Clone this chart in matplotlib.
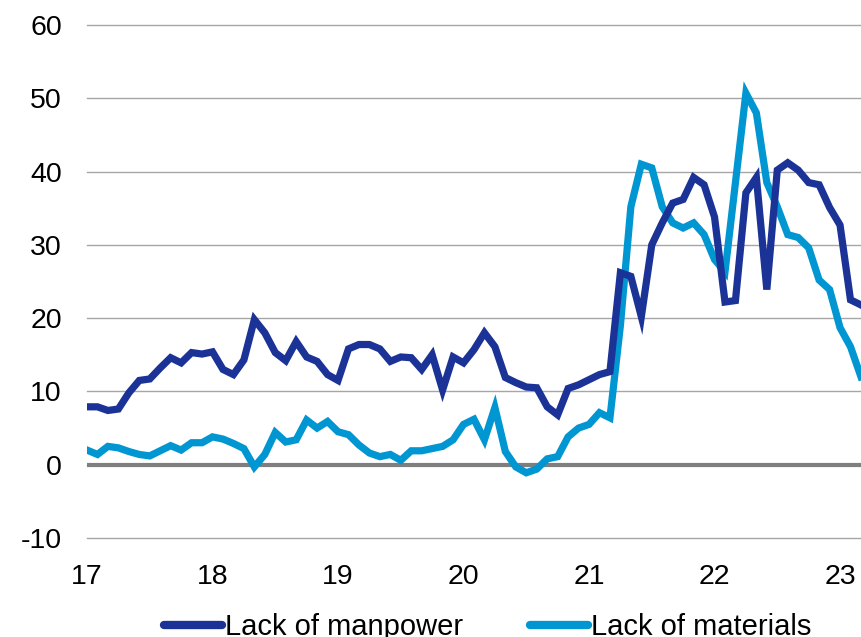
import numpy as np
import matplotlib
matplotlib.use("Agg")
import matplotlib.pyplot as plt

# Monthly survey balances, Jan 2017 onwards (share of firms citing each constraint)
START_YEAR = 17
manpower = [
    7.9, 7.9, 7.4, 7.6, 9.8, 11.5, 11.7, 13.2, 14.6, 13.9, 15.3, 15.1,
    15.4, 13.0, 12.3, 14.3, 19.8, 18.0, 15.3, 14.2, 16.8, 14.7, 14.1, 12.3,
    11.5, 15.8, 16.4, 16.4, 15.8, 14.1, 14.7, 14.6, 13.0, 15.0, 10.2, 14.7,
    13.9, 15.7, 18.0, 16.1, 11.9, 11.2, 10.6, 10.5, 7.9, 6.8, 10.4, 10.9,
    11.6, 12.3, 12.7, 26.2, 25.7, 20.2, 30.0, 33.0, 35.7, 36.2, 39.2, 38.2,
    33.8, 22.2, 22.4, 37.1, 39.2, 23.9, 40.2, 41.2, 40.2, 38.5, 38.2, 35.1,
    32.7, 22.5, 21.8,
]
materials = [
    2.0, 1.4, 2.5, 2.3, 1.8, 1.4, 1.2, 1.9, 2.6, 2.0, 3.0, 3.0,
    3.8, 3.5, 2.9, 2.2, -0.3, 1.4, 4.4, 3.1, 3.4, 6.1, 5.0, 5.9,
    4.5, 4.1, 2.7, 1.6, 1.1, 1.4, 0.6, 1.9, 1.9, 2.2, 2.5, 3.4,
    5.5, 6.2, 3.4, 7.8, 1.8, -0.3, -1.1, -0.6, 0.8, 1.1, 3.8, 5.0,
    5.5, 7.1, 6.4, 19.0, 35.2, 41.0, 40.5, 35.2, 33.0, 32.3, 33.0, 31.4,
    28.0, 26.3, 38.5, 50.7, 48.0, 38.5, 35.2, 31.4, 31.0, 29.6, 25.2, 23.9,
    18.7, 16.1, 12.0,
]
year_ticks = [17, 18, 19, 20, 21, 22, 23]
y_ticks = [-10, 0, 10, 20, 30, 40, 50, 60]

DARK = "#1b3296"
LIGHT = "#0096d2"

plt.rcParams["font.family"] = ["Liberation Sans", "DejaVu Sans"]
plt.rcParams["axes.unicode_minus"] = False

t = START_YEAR + np.arange(len(manpower)) / 12.0

fig = plt.figure(figsize=(8.62, 6.37), dpi=100)
ax = fig.add_axes([87 / 862, 1 - 538 / 637, 1 - 87 / 862, (538 - 25) / 637])

ax.set_ylim(-10, 60)
ax.set_xlim(17, 23.175)
ax.set_yticks(y_ticks)
ax.set_xticks(year_ticks)
ax.set_xticklabels([str(y) for y in year_ticks])
ax.yaxis.grid(True, color="#a6a6a6", linewidth=1.0)
for gl in ax.get_ygridlines():
    gl.set_clip_on(False)
ax.set_axisbelow(True)
ax.axhline(0, color="#7f7f7f", linewidth=3.0, zorder=1)

ax.plot(t, manpower, color=DARK, linewidth=5.2, label="Lack of manpower",
        solid_joinstyle="miter", zorder=3)
ax.plot(t, materials, color=LIGHT, linewidth=5.2, label="Lack of materials",
        solid_joinstyle="miter", zorder=2)

for s in ax.spines.values():
    s.set_visible(False)
ax.tick_params(axis="both", length=0, labelsize=20.5, colors="black")
ax.tick_params(axis="y", pad=18)
ax.tick_params(axis="x", pad=19)

leg = fig.legend(loc="center", bbox_to_anchor=(0.5656, 0.015), ncol=2,
                 frameon=False, fontsize=21, handlelength=2.0,
                 handletextpad=0.1, columnspacing=2.3, borderpad=0)
for line in leg.get_lines():
    line.set_linewidth(6)
    line.set_solid_capstyle("round")

fig.savefig("out.png", dpi=100)
